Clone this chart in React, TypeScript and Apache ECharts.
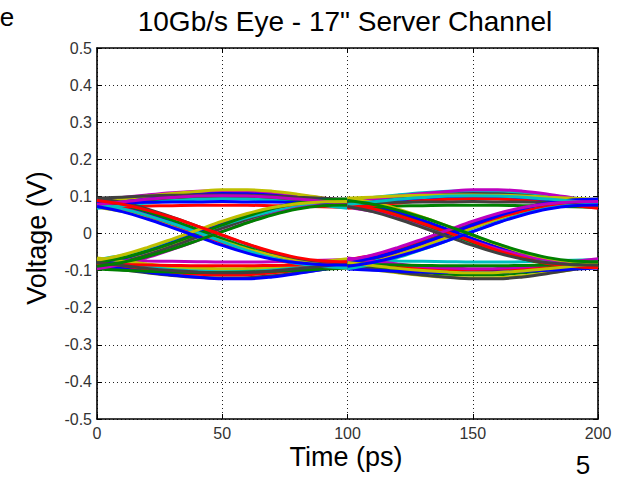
import React, { useEffect, useRef } from "react";
import * as echarts from "echarts";

// ---- axis ticks ----
const timeTicks = [0, 50, 100, 150, 200];
const voltageTicks = [-0.5, -0.4, -0.3, -0.2, -0.1, 0, 0.1, 0.2, 0.3, 0.4, 0.5];

// ---- eye diagram data ----
// each unit interval (100 ps) is overlaid twice: 0-100 ps and 100-200 ps
const unitIntervalStarts = [0, 100];
// sample times inside one unit interval (ps)
const sampleTimes = [0, 10, 20, 30, 40, 50, 60, 70, 80, 90, 100];

// 0 -> 1 transitions (V)
const risingEdges = [
  [-0.080, -0.069, -0.052, -0.032, -0.009, 0.015, 0.038, 0.057, 0.071, 0.079, 0.081],
  [-0.085, -0.072, -0.054, -0.032, -0.007, 0.018, 0.042, 0.062, 0.076, 0.084, 0.086],
  [-0.075, -0.062, -0.044, -0.022, 0.002, 0.026, 0.048, 0.065, 0.077, 0.082, 0.083],
  [-0.090, -0.077, -0.058, -0.035, -0.010, 0.015, 0.039, 0.059, 0.073, 0.081, 0.084],
  [-0.070, -0.059, -0.043, -0.023, 0.000, 0.022, 0.043, 0.060, 0.072, 0.078, 0.079],
  [-0.082, -0.068, -0.048, -0.025, 0.000, 0.025, 0.049, 0.069, 0.083, 0.090, 0.091],
  [-0.095, -0.083, -0.065, -0.043, -0.019, 0.006, 0.030, 0.052, 0.068, 0.077, 0.080],
  [-0.078, -0.066, -0.048, -0.026, -0.002, 0.023, 0.047, 0.067, 0.082, 0.090, 0.093],
  [-0.072, -0.058, -0.038, -0.015, 0.009, 0.033, 0.054, 0.070, 0.080, 0.085, 0.086],
  [-0.088, -0.078, -0.062, -0.042, -0.019, 0.005, 0.029, 0.050, 0.066, 0.075, 0.077],
];

// 1 -> 0 transitions (V)
const fallingEdges = [
  [0.081, 0.070, 0.053, 0.033, 0.010, -0.014, -0.037, -0.056, -0.070, -0.078, -0.080],
  [0.086, 0.073, 0.055, 0.033, 0.008, -0.017, -0.041, -0.061, -0.075, -0.083, -0.085],
  [0.076, 0.063, 0.045, 0.023, -0.001, -0.025, -0.047, -0.064, -0.076, -0.081, -0.082],
  [0.091, 0.078, 0.059, 0.036, 0.011, -0.014, -0.038, -0.058, -0.072, -0.080, -0.083],
  [0.071, 0.060, 0.044, 0.024, 0.001, -0.021, -0.042, -0.059, -0.071, -0.077, -0.078],
  [0.083, 0.069, 0.049, 0.026, 0.001, -0.024, -0.048, -0.068, -0.082, -0.089, -0.090],
  [0.096, 0.084, 0.066, 0.044, 0.020, -0.005, -0.029, -0.051, -0.067, -0.076, -0.079],
  [0.079, 0.067, 0.049, 0.027, 0.003, -0.022, -0.046, -0.066, -0.081, -0.089, -0.092],
  [0.073, 0.059, 0.039, 0.016, -0.008, -0.032, -0.053, -0.069, -0.079, -0.084, -0.085],
  [0.089, 0.079, 0.063, 0.043, 0.020, -0.004, -0.028, -0.049, -0.065, -0.074, -0.076],
];

// 1 -> 1 runs (V)
const highRuns = [
  [0.080, 0.088, 0.096, 0.103, 0.108, 0.110, 0.109, 0.105, 0.098, 0.089, 0.081],
  [0.090, 0.097, 0.104, 0.110, 0.114, 0.116, 0.115, 0.111, 0.104, 0.096, 0.088],
  [0.075, 0.081, 0.087, 0.092, 0.096, 0.097, 0.096, 0.093, 0.088, 0.082, 0.076],
  [0.085, 0.093, 0.101, 0.108, 0.113, 0.118, 0.118, 0.114, 0.106, 0.096, 0.086],
  [0.070, 0.072, 0.074, 0.075, 0.076, 0.076, 0.076, 0.075, 0.074, 0.072, 0.070],
  [0.095, 0.098, 0.101, 0.103, 0.104, 0.104, 0.103, 0.101, 0.098, 0.095, 0.092],
  [0.068, 0.075, 0.082, 0.088, 0.092, 0.094, 0.093, 0.089, 0.083, 0.076, 0.068],
  [0.082, 0.083, 0.084, 0.085, 0.085, 0.086, 0.085, 0.085, 0.084, 0.083, 0.082],
  [0.078, 0.085, 0.092, 0.097, 0.101, 0.102, 0.101, 0.098, 0.093, 0.087, 0.080],
];

// 0 -> 0 runs (V)
const lowRuns = [
  [-0.080, -0.089, -0.098, -0.105, -0.110, -0.112, -0.111, -0.106, -0.099, -0.090, -0.081],
  [-0.090, -0.098, -0.106, -0.113, -0.118, -0.120, -0.119, -0.114, -0.106, -0.097, -0.088],
  [-0.075, -0.082, -0.088, -0.094, -0.098, -0.100, -0.099, -0.095, -0.089, -0.082, -0.075],
  [-0.086, -0.095, -0.104, -0.112, -0.118, -0.122, -0.122, -0.117, -0.108, -0.097, -0.087],
  [-0.070, -0.072, -0.074, -0.075, -0.076, -0.077, -0.077, -0.076, -0.074, -0.072, -0.070],
  [-0.096, -0.099, -0.102, -0.104, -0.105, -0.105, -0.104, -0.102, -0.099, -0.096, -0.093],
  [-0.066, -0.074, -0.082, -0.089, -0.093, -0.095, -0.094, -0.090, -0.084, -0.076, -0.068],
  [-0.083, -0.084, -0.085, -0.086, -0.087, -0.087, -0.087, -0.086, -0.085, -0.084, -0.083],
  [-0.078, -0.086, -0.094, -0.100, -0.104, -0.106, -0.105, -0.101, -0.095, -0.088, -0.080],
];

// MATLAB-style line colour cycle
const traceColors = ["#0000FF", "#008000", "#FF0000", "#00BFBF", "#BF00BF", "#BFBF00", "#404040"];

const titleText = "10Gb/s Eye - 17\" Server Channel";
const xAxisTitle = "Time (ps)";
const yAxisTitle = "Voltage (V)";

const FONT = "'Liberation Sans', Arial, Helvetica, sans-serif";

export default function App() {
  const ref = useRef<HTMLDivElement>(null);

  useEffect(() => {
    if (!ref.current) return;
    const chart = echarts.init(ref.current, null, { renderer: "svg" });

    // interleave the four kinds of segments so colours mix
    const shapes: number[][] = [];
    const maxLen = Math.max(risingEdges.length, fallingEdges.length, highRuns.length, lowRuns.length);
    for (let i = 0; i < maxLen; i++) {
      if (highRuns[i]) shapes.push(highRuns[i]);
      if (risingEdges[i]) shapes.push(risingEdges[i]);
      if (lowRuns[i]) shapes.push(lowRuns[i]);
      if (fallingEdges[i]) shapes.push(fallingEdges[i]);
    }

    const series: any[] = [];
    let k = 0;
    unitIntervalStarts.forEach((start, u) => {
      shapes.forEach((shape) => {
        series.push({
          type: "line",
          xAxisIndex: 0,
          yAxisIndex: 0,
          data: sampleTimes.map((t, i) => [start + t, shape[i]]),
          symbol: "none",
          smooth: 0.35,
          silent: true,
          lineStyle: { width: 3, color: traceColors[(k + u * 3) % traceColors.length] },
        });
        k++;
      });
    });

    const tMin = timeTicks[0];
    const tMax = timeTicks[timeTicks.length - 1];
    const tInt = timeTicks[1] - timeTicks[0];
    const vMin = voltageTicks[0];
    const vMax = voltageTicks[voltageTicks.length - 1];
    const vInt = 0.1;

    const axisCommon = {
      axisLine: { show: true, onZero: false, lineStyle: { color: "#000", width: 1.6 } },
      axisTick: { show: true, inside: true, length: 5, lineStyle: { color: "#000", width: 1 } },
    };

    chart.setOption({
      animation: false,
      backgroundColor: "#ffffff",
      grid: { left: 97, right: 25, top: 48, bottom: 61, containLabel: false },
      xAxis: [
        {
          type: "value",
          min: tMin,
          max: tMax,
          interval: tInt,
          position: "bottom",
          ...axisCommon,
          axisLabel: {
            show: true,
            color: "#333",
            fontFamily: FONT,
            fontSize: 16,
            margin: 6,
          },
          splitLine: { show: true, lineStyle: { color: "#222", width: 1, type: [1, 3] } },
        },
        {
          type: "value",
          min: tMin,
          max: tMax,
          interval: tInt,
          position: "top",
          ...axisCommon,
          axisLabel: { show: false },
          splitLine: { show: false },
        },
      ],
      yAxis: [
        {
          type: "value",
          min: vMin,
          max: vMax,
          interval: vInt,
          position: "left",
          ...axisCommon,
          axisLabel: {
            show: true,
            color: "#333",
            fontFamily: FONT,
            fontSize: 16,
            margin: 5,
            formatter: (v: number) => String(Number(v.toFixed(1))),
          },
          splitLine: { show: true, lineStyle: { color: "#222", width: 1, type: [1, 3] } },
        },
        {
          type: "value",
          min: vMin,
          max: vMax,
          interval: vInt,
          position: "right",
          ...axisCommon,
          axisLabel: { show: false },
          splitLine: { show: false },
        },
      ],
      series,
      graphic: [
        {
          type: "text",
          x: 345,
          y: 21,
          style: { text: titleText, font: `28px ${FONT}`, fill: "#000", textAlign: "center", textVerticalAlign: "middle" },
        },
        {
          type: "text",
          x: 346,
          y: 457,
          style: { text: xAxisTitle, font: `27px ${FONT}`, fill: "#000", textAlign: "center", textVerticalAlign: "middle" },
        },
        {
          type: "text",
          x: 37,
          y: 238,
          rotation: Math.PI / 2,
          style: { text: yAxisTitle, font: `27px ${FONT}`, fill: "#000", textAlign: "center", textVerticalAlign: "middle" },
        },
        {
          type: "text",
          x: 7,
          y: 17,
          style: { text: "e", font: `26px ${FONT}`, fill: "#000", textAlign: "center", textVerticalAlign: "middle" },
        },
        {
          type: "text",
          x: 583,
          y: 465,
          style: { text: "5", font: `26px ${FONT}`, fill: "#000", textAlign: "center", textVerticalAlign: "middle" },
        },
      ],
    });

    return () => chart.dispose();
  }, []);

  return (
    <div
      ref={ref}
      style={{ position: "absolute", left: 0, top: 0, width: 623, height: 480, background: "#fff" }}
    />
  );
}
